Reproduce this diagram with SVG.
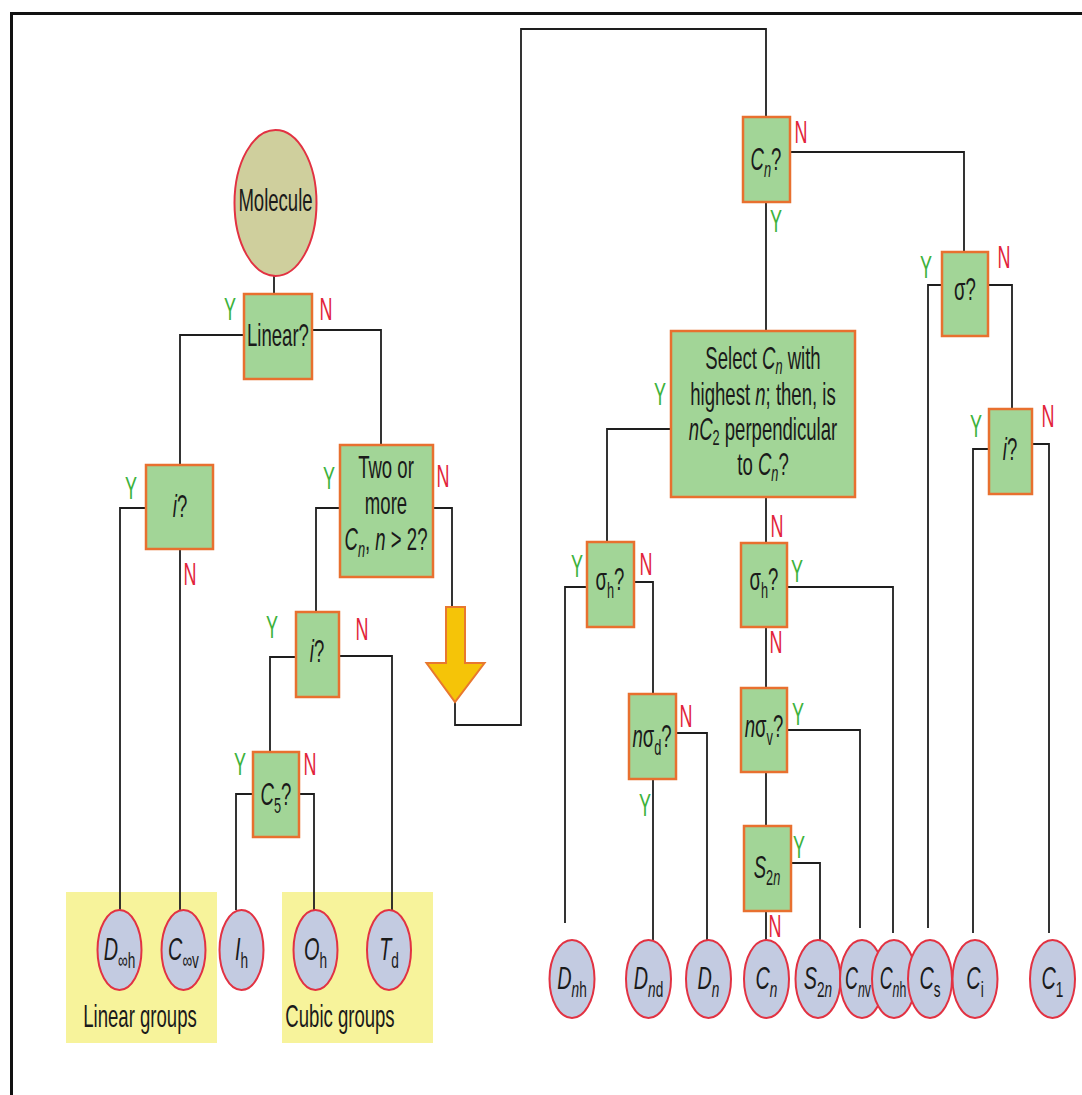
<svg xmlns="http://www.w3.org/2000/svg" width="1082" height="1095" viewBox="0 0 1082 1095">
<style>
text{font-family:"Liberation Sans",Arial,sans-serif;font-size:32px;fill:#1a1a1a;text-anchor:middle}
.s{font-size:22px}
.i{font-style:italic}
.y{fill:#3db23c;font-size:31px}
.n{fill:#e2253b;font-size:31px}
.box{fill:#a2d597;stroke:#e8702f;stroke-width:2.5}
.leaf{fill:#c3cbe1;stroke:#e23242;stroke-width:2}
.grp{fill:#f7f39b}
.c path{fill:none;stroke:#1e1e1e;stroke-width:1.8}
</style>
<rect width="1082" height="1095" fill="#ffffff"/>
<g id="frame" fill="none" stroke="#111" stroke-width="3">
<path d="M11.5 1095 V13.5 H1082"/>
</g>
<g id="groups">
<rect class="grp" x="66" y="892" width="151" height="151"/>
<rect class="grp" x="282" y="892" width="151" height="151"/>
<text transform="translate(140,1027) scale(.58,1)">Linear groups</text>
<text transform="translate(340,1027) scale(.58,1)">Cubic groups</text>
</g>
<g class="c" id="connectors">
<path d="M274 276 V294"/>
<path d="M244 335 H180 V465"/>
<path d="M312 330 H381 V445"/>
<path d="M146 508 H120 V910"/>
<path d="M180 549 V910"/>
<path d="M340 508 H316 V612"/>
<path d="M433 508 H452 V607"/>
<path d="M296 657 H270 V752"/>
<path d="M339 656 H392 V910"/>
<path d="M253 794 H236 V910"/>
<path d="M299 794 H314 V910"/>
<path d="M455 702 V725 H521 V29 H766 V117"/>
<path d="M766 202 V331"/>
<path d="M790 152 H964 V252"/>
<path d="M942 285 H928 V928"/>
<path d="M988 285 H1012 V409"/>
<path d="M989 449 H973 V933"/>
<path d="M1032 444 H1049 V933"/>
<path d="M671 429 H607 V542"/>
<path d="M766 498 V543"/>
<path d="M587 587 H565 V923"/>
<path d="M634 582 H653 V694"/>
<path d="M653 779 V940"/>
<path d="M676 733 H707 V940"/>
<path d="M787 587 H893 V933"/>
<path d="M766 627 V688"/>
<path d="M787 730 H860 V928"/>
<path d="M766 772 V826"/>
<path d="M791 863 H820 V940"/>
<path d="M766 911 V940"/>
</g>
<g id="molecule">
<ellipse cx="275.5" cy="203" rx="41" ry="73" fill="#cfcf9d" stroke="#e23242" stroke-width="2"/>
<text transform="translate(275.5,211) scale(.58,1)">Molecule</text>
</g>
<g id="linear">
<rect class="box" x="244" y="294" width="68" height="85"/>
<text transform="translate(278,346) scale(.58,1)">Linear?</text>
<text class="y" transform="translate(230,320) scale(.58,1)">Y</text>
<text class="n" transform="translate(326,320) scale(.58,1)">N</text>
</g>
<g id="inv1">
<rect class="box" x="146" y="465" width="67" height="84"/>
<text transform="translate(180,517) scale(.58,1)"><tspan class="i">i</tspan>?</text>
<text class="y" transform="translate(131,499) scale(.58,1)">Y</text>
<text class="n" transform="translate(190,585) scale(.58,1)">N</text>
</g>
<g id="twoormore">
<rect class="box" x="340" y="445" width="93" height="132"/>
<text transform="translate(386,478) scale(.58,1)">Two or</text>
<text transform="translate(386,514) scale(.58,1)">more</text>
<text transform="translate(386,550) scale(.58,1)"><tspan class="i">C</tspan><tspan class="s i" dy="7">n</tspan><tspan dy="-7">, </tspan><tspan class="i">n</tspan> &gt; 2?</text>
<text class="y" transform="translate(329,489) scale(.58,1)">Y</text>
<text class="n" transform="translate(443,487) scale(.58,1)">N</text>
</g>
<g id="inv2">
<rect class="box" x="296" y="612" width="43" height="85"/>
<text transform="translate(317,662) scale(.58,1)"><tspan class="i">i</tspan>?</text>
<text class="y" transform="translate(272,638) scale(.58,1)">Y</text>
<text class="n" transform="translate(362,640) scale(.58,1)">N</text>
</g>
<g id="c5">
<rect class="box" x="253" y="752" width="46" height="85"/>
<text transform="translate(276,805) scale(.58,1)"><tspan class="i">C</tspan><tspan class="s" dy="8">5</tspan><tspan dy="-8">?</tspan></text>
<text class="y" transform="translate(240,775) scale(.58,1)">Y</text>
<text class="n" transform="translate(310,775) scale(.58,1)">N</text>
</g>
<g id="arrow">
<polygon points="446,607 465,607 465,663 484.5,663 455,702 426.5,663 446,663" fill="#f5c408" stroke="#e8782f" stroke-width="2"/>
</g>
<g id="cn">
<rect class="box" x="743" y="117" width="47" height="85"/>
<text transform="translate(766,170) scale(.58,1)"><tspan class="i">C</tspan><tspan class="s i" dy="7">n</tspan><tspan dy="-7">?</tspan></text>
<text class="n" transform="translate(801,143) scale(.58,1)">N</text>
<text class="y" transform="translate(776,232) scale(.58,1)">Y</text>
</g>
<g id="sigma">
<rect class="box" x="942" y="252" width="46" height="84"/>
<text transform="translate(965,300) scale(.58,1)">σ?</text>
<text class="y" transform="translate(926,278) scale(.58,1)">Y</text>
<text class="n" transform="translate(1004,268) scale(.58,1)">N</text>
</g>
<g id="inv3">
<rect class="box" x="989" y="409" width="43" height="85"/>
<text transform="translate(1010,460) scale(.58,1)"><tspan class="i">i</tspan>?</text>
<text class="y" transform="translate(976,437) scale(.58,1)">Y</text>
<text class="n" transform="translate(1048,427) scale(.58,1)">N</text>
</g>
<g id="select">
<rect class="box" x="671" y="331" width="184" height="166"/>
<text transform="translate(763,369) scale(.58,1)">Select <tspan class="i">C</tspan><tspan class="s i" dy="5">n</tspan><tspan dy="-5"> with</tspan></text>
<text transform="translate(763,405) scale(.58,1)">highest <tspan class="i">n</tspan>; then, is</text>
<text transform="translate(763,440) scale(.58,1)"><tspan class="i">nC</tspan><tspan class="s" dy="5">2</tspan><tspan dy="-5"> perpendicular</tspan></text>
<text transform="translate(763,475) scale(.58,1)">to <tspan class="i">C</tspan><tspan class="s i" dy="6">n</tspan><tspan dy="-6">?</tspan></text>
<text class="y" transform="translate(660,405) scale(.58,1)">Y</text>
<text class="n" transform="translate(777,537) scale(.58,1)">N</text>
</g>
<g id="sigmah1">
<rect class="box" x="587" y="542" width="47" height="85"/>
<text transform="translate(610,590) scale(.58,1)">σ<tspan class="s" dy="8">h</tspan><tspan dy="-8">?</tspan></text>
<text class="y" transform="translate(577,577) scale(.58,1)">Y</text>
<text class="n" transform="translate(646,575) scale(.58,1)">N</text>
</g>
<g id="nsigmad">
<rect class="box" x="629" y="694" width="47" height="85"/>
<text transform="translate(652,747) scale(.58,1)"><tspan class="i">n</tspan>σ<tspan class="s" dy="8">d</tspan><tspan dy="-8">?</tspan></text>
<text class="n" transform="translate(686,727) scale(.58,1)">N</text>
<text class="y" transform="translate(645,816) scale(.58,1)">Y</text>
</g>
<g id="sigmah2">
<rect class="box" x="741" y="543" width="46" height="84"/>
<text transform="translate(764,590) scale(.58,1)">σ<tspan class="s" dy="8">h</tspan><tspan dy="-8">?</tspan></text>
<text class="y" transform="translate(797,582) scale(.58,1)">Y</text>
<text class="n" transform="translate(776,653) scale(.58,1)">N</text>
</g>
<g id="nsigmav">
<rect class="box" x="741" y="688" width="46" height="84"/>
<text transform="translate(764,737) scale(.58,1)"><tspan class="i">n</tspan>σ<tspan class="s" dy="8">v</tspan><tspan dy="-8">?</tspan></text>
<text class="y" transform="translate(798,725) scale(.58,1)">Y</text>
</g>
<g id="s2n">
<rect class="box" x="744" y="826" width="47" height="85"/>
<text transform="translate(767,878) scale(.58,1)"><tspan class="i">S</tspan><tspan class="s" dy="7">2</tspan><tspan class="s i">n</tspan></text>
<text class="y" transform="translate(799,858) scale(.58,1)">Y</text>
<text class="n" transform="translate(775,937) scale(.58,1)">N</text>
</g>
<g id="Dinfh"><ellipse class="leaf" cx="119.5" cy="950" rx="22" ry="40"/><text transform="translate(119.5,960) scale(.62,1)"><tspan class="i">D</tspan><tspan class="s" dy="8">∞h</tspan></text></g>
<g id="Cinfv"><ellipse class="leaf" cx="183.5" cy="950" rx="22" ry="40"/><text transform="translate(183.5,960) scale(.62,1)"><tspan class="i">C</tspan><tspan class="s" dy="8">∞v</tspan></text></g>
<g id="Ih"><ellipse class="leaf" cx="241.5" cy="950" rx="22" ry="40"/><text transform="translate(241.5,960) scale(.62,1)"><tspan class="i">I</tspan><tspan class="s" dy="8">h</tspan></text></g>
<g id="Oh"><ellipse class="leaf" cx="315.5" cy="950" rx="22" ry="40"/><text transform="translate(315.5,960) scale(.62,1)"><tspan class="i">O</tspan><tspan class="s" dy="8">h</tspan></text></g>
<g id="Td"><ellipse class="leaf" cx="389" cy="950" rx="22" ry="40"/><text transform="translate(389,960) scale(.62,1)"><tspan class="i">T</tspan><tspan class="s" dy="8">d</tspan></text></g>
<g id="Dnh"><ellipse class="leaf" cx="572" cy="979" rx="22.5" ry="39"/><text transform="translate(572,989) scale(.62,1)"><tspan class="i">D</tspan><tspan class="s i" dy="8">n</tspan><tspan class="s">h</tspan></text></g>
<g id="Dnd"><ellipse class="leaf" cx="648.5" cy="979" rx="22.5" ry="39"/><text transform="translate(648.5,989) scale(.62,1)"><tspan class="i">D</tspan><tspan class="s i" dy="8">n</tspan><tspan class="s">d</tspan></text></g>
<g id="Dn"><ellipse class="leaf" cx="708.5" cy="979" rx="22.5" ry="39"/><text transform="translate(708.5,989) scale(.62,1)"><tspan class="i">D</tspan><tspan class="s i" dy="8">n</tspan></text></g>
<g id="Cn"><ellipse class="leaf" cx="766.5" cy="979" rx="22.5" ry="39"/><text transform="translate(766.5,989) scale(.62,1)"><tspan class="i">C</tspan><tspan class="s i" dy="8">n</tspan></text></g>
<g id="S2nleaf"><ellipse class="leaf" cx="818" cy="979" rx="22.5" ry="39"/><text transform="translate(818,989) scale(.62,1)"><tspan class="i">S</tspan><tspan class="s" dy="8">2</tspan><tspan class="s i">n</tspan></text></g>
<g id="Cnv"><ellipse class="leaf" cx="862" cy="979" rx="22" ry="39"/><text transform="translate(858,989) scale(.56,1)"><tspan class="i">C</tspan><tspan class="s i" dy="8">n</tspan><tspan class="s">v</tspan></text></g>
<g id="Cnh"><ellipse class="leaf" cx="894" cy="979" rx="22" ry="39"/><text transform="translate(893,989) scale(.56,1)"><tspan class="i">C</tspan><tspan class="s i" dy="8">n</tspan><tspan class="s">h</tspan></text></g>
<g id="Cs"><ellipse class="leaf" cx="930" cy="979" rx="22" ry="39"/><text transform="translate(930,989) scale(.62,1)"><tspan class="i">C</tspan><tspan class="s" dy="8">s</tspan></text></g>
<g id="Ci"><ellipse class="leaf" cx="975" cy="979" rx="22.5" ry="39"/><text transform="translate(975,989) scale(.62,1)"><tspan class="i">C</tspan><tspan class="s" dy="8">i</tspan></text></g>
<g id="C1"><ellipse class="leaf" cx="1052.5" cy="979" rx="22.5" ry="39"/><text transform="translate(1052.5,989) scale(.62,1)"><tspan class="i">C</tspan><tspan class="s" dy="8">1</tspan></text></g>
</svg>
